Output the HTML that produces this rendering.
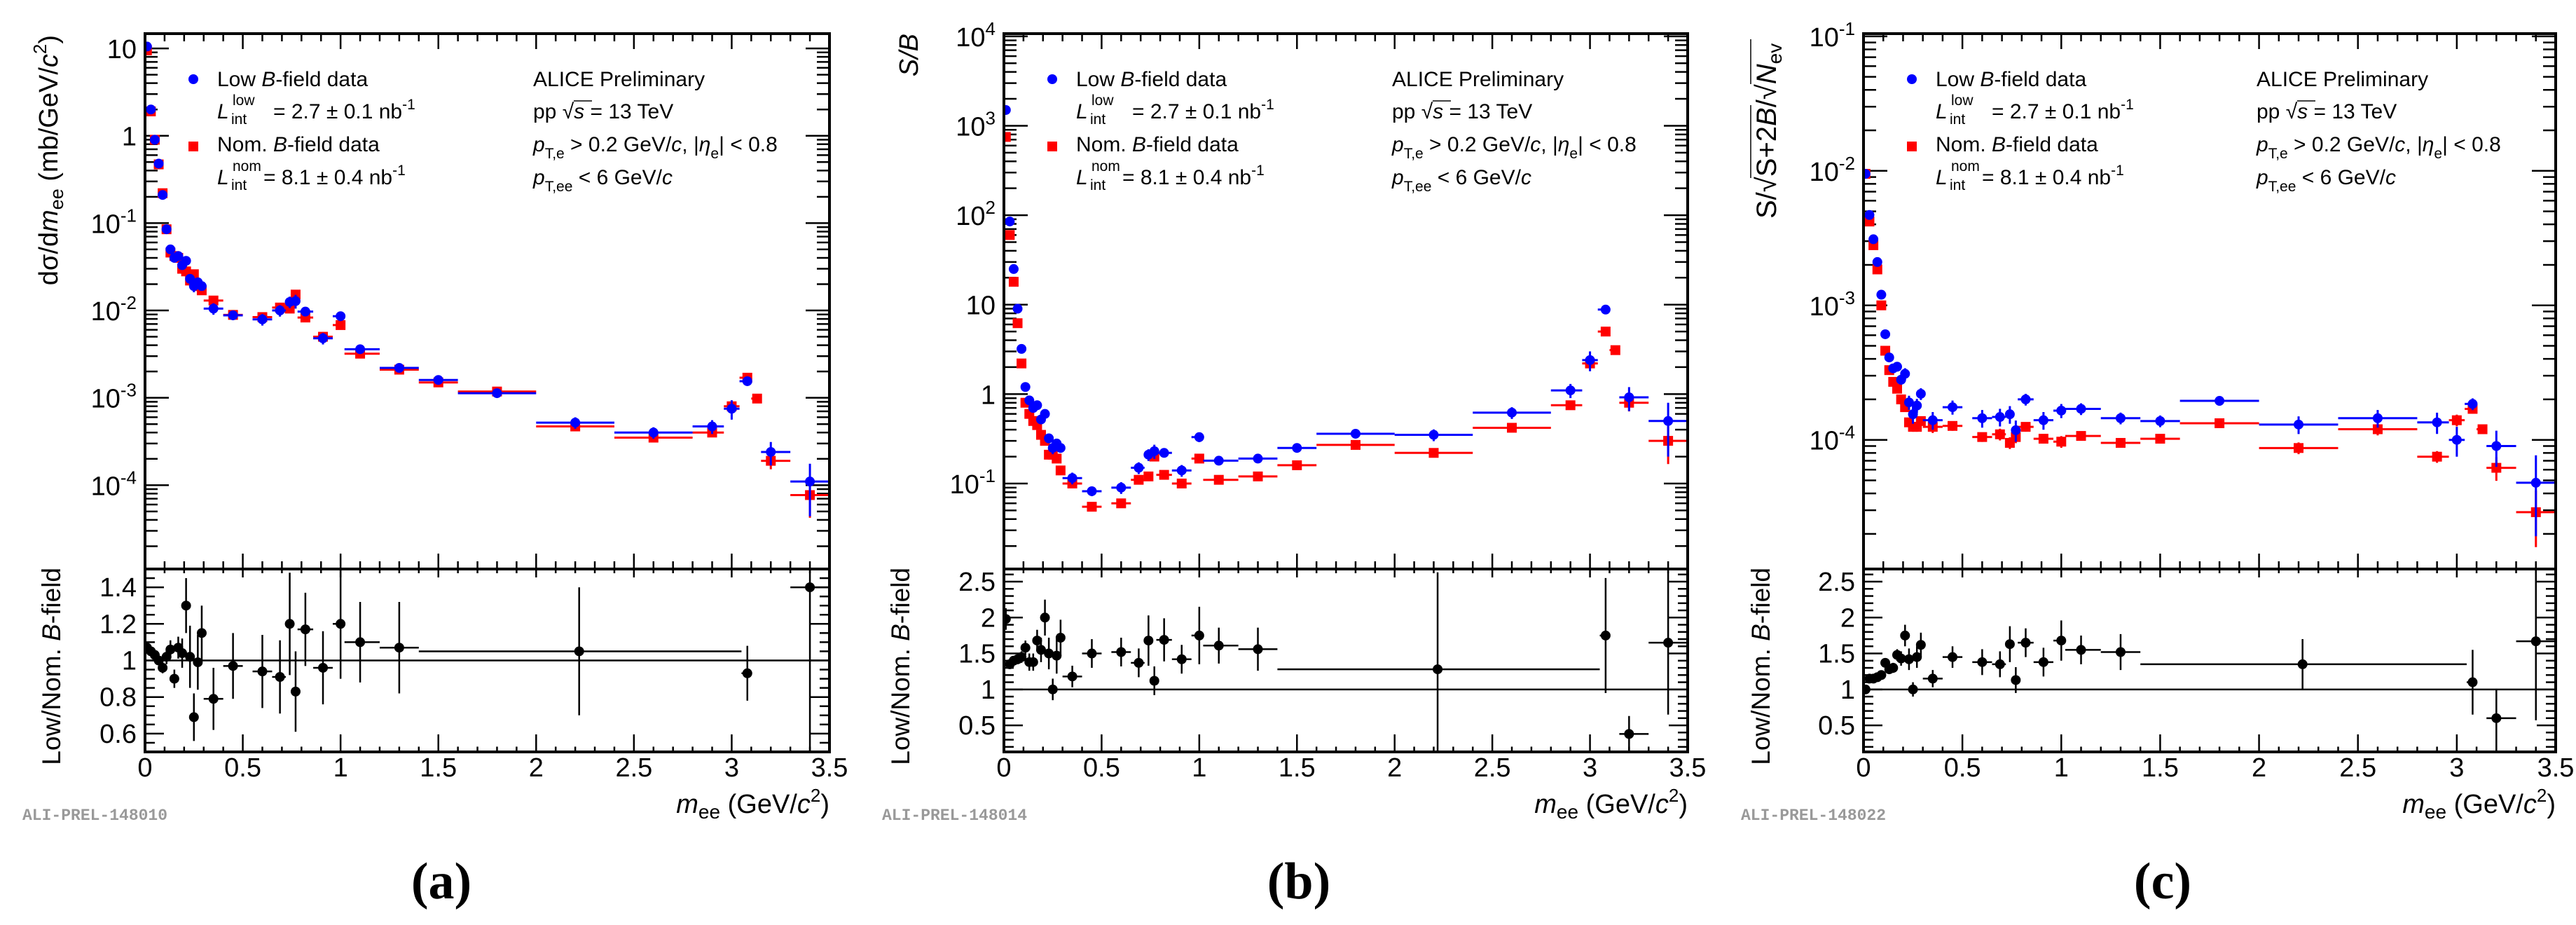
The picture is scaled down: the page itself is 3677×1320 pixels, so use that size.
<!DOCTYPE html>
<html><head><meta charset="utf-8"><style>
html,body{margin:0;padding:0;background:#fff;}
svg{display:block;font-family:"Liberation Sans",sans-serif;}
</style></head><body>
<svg id="fig" width="3677" height="1320" viewBox="0 0 3677 1320" xmlns="http://www.w3.org/2000/svg">
<rect x="0" y="0" width="3677" height="1320" fill="#fff"/>
</svg>
<script>
// ---- shared binning ----
const binLo = [0,0.02,0.04,0.06,0.08,0.10,0.12,0.14,0.16,0.18,0.20,0.22,0.24,0.26,0.28,0.30,0.40,0.55,0.65,0.72,0.76,0.78,0.86,0.96,1.02,1.2,1.4,1.6,2.0,2.4,2.8,2.96,3.04,3.1,3.15,3.3];
const binHi = [0.02,0.04,0.06,0.08,0.10,0.12,0.14,0.16,0.18,0.20,0.22,0.24,0.26,0.28,0.30,0.40,0.50,0.65,0.72,0.76,0.78,0.86,0.96,1.02,1.2,1.4,1.6,2.0,2.4,2.8,2.96,3.04,3.1,3.15,3.3,3.5];
const binX  = [0.01,0.03,0.05,0.07,0.09,0.11,0.13,0.15,0.17,0.19,0.21,0.23,0.25,0.27,0.29,0.35,0.45,0.6,0.69,0.74,0.77,0.82,0.91,1.0,1.1,1.3,1.5,1.8,2.2,2.6,2.9,3.0,3.08,3.13,3.2,3.4];
const errLowRel = [0.02,0.02,0.03,0.03,0.04,0.05,0.06,0.07,0.08,0.08,0.1,0.12,0.15,0.12,0.1,0.15,0.12,0.15,0.15,0.15,0.18,0.1,0.15,0.12,0.1,0.1,0.1,0.08,0.15,0.15,0.18,0.25,0.1,0,0.3,0.6];
const errNomRel = [0.02,0.02,0.02,0.03,0.03,0.04,0.05,0.05,0.06,0.06,0.07,0.08,0.08,0.08,0.08,0.1,0.08,0.08,0.1,0.1,0.1,0.08,0.08,0.1,0.08,0.08,0.08,0.06,0.1,0.1,0.1,0.1,0.08,0.06,0.2,0.45];
// ---- panel a: cross section ----
const lowA = [10.5,2.0,0.9,0.48,0.21,0.085,0.05,0.040,0.042,0.033,0.037,0.023,0.019,0.021,0.019,0.0105,0.0088,0.0079,0.010,0.0125,0.0128,0.0097,0.0048,0.0086,0.0036,0.0022,0.0016,0.00113,0.00052,0.00040,0.00047,0.00075,0.00155,null,0.00024,0.00011];
const nomA = [9.5,1.9,0.9,0.47,0.22,0.085,0.046,0.042,0.040,0.030,0.028,0.022,0.026,0.019,0.017,0.013,0.0089,0.0084,0.0108,0.0105,0.0152,0.0083,0.0050,0.0068,0.0032,0.0021,0.0015,0.00118,0.00047,0.00035,0.00040,0.0008,0.0017,0.00098,0.00019,0.000077];
// ---- panel b: S/B ----
const lowB = [1500,85,25,9,3.2,1.2,0.85,0.7,0.75,0.52,0.6,0.32,0.25,0.28,0.25,0.115,0.082,0.09,0.15,0.21,0.23,0.22,0.14,0.33,0.18,0.19,0.25,0.36,0.35,0.62,1.1,2.4,8.8,null,0.92,0.5];
const nomB = [750,60,18,6.2,2.2,0.8,0.6,0.5,0.45,0.35,0.3,0.21,0.21,0.19,0.14,0.1,0.055,0.06,0.11,0.12,0.2,0.125,0.1,0.19,0.11,0.12,0.16,0.27,0.22,0.42,0.75,2.2,5.0,3.1,0.8,0.3];
// ---- panel c: significance ----
const lowC = [9.5e-3,4.7e-3,3.1e-3,2.1e-3,1.2e-3,6.1e-4,4.1e-4,3.4e-4,3.5e-4,2.8e-4,3.1e-4,1.9e-4,1.55e-4,1.8e-4,2.2e-4,1.4e-4,1.75e-4,1.45e-4,1.48e-4,1.55e-4,1.18e-4,2.0e-4,1.4e-4,1.65e-4,1.7e-4,1.45e-4,1.38e-4,1.95e-4,1.3e-4,1.45e-4,1.35e-4,1.0e-4,1.85e-4,null,0.9e-4,0.48e-4];
const nomC = [9.5e-3,4.2e-3,2.8e-3,1.85e-3,1.0e-3,4.6e-4,3.3e-4,2.7e-4,2.4e-4,2.0e-4,1.75e-4,1.35e-4,1.25e-4,1.25e-4,1.38e-4,1.25e-4,1.27e-4,1.05e-4,1.1e-4,0.95e-4,1.05e-4,1.25e-4,1.02e-4,0.97e-4,1.07e-4,0.95e-4,1.02e-4,1.33e-4,0.87e-4,1.2e-4,0.75e-4,1.4e-4,1.7e-4,1.2e-4,0.62e-4,0.29e-4];
// ---- ratio binning ----
const ratioX  = [0.01,0.03,0.05,0.07,0.09,0.11,0.13,0.15,0.17,0.19,0.21,0.23,0.25,0.27,0.29,0.35,0.45,0.6,0.69,0.74,0.77,0.82,0.91,1.0,1.1,1.3,2.22,3.08,3.2,3.4];
const ratioLo = [0,0.02,0.04,0.06,0.08,0.10,0.12,0.14,0.16,0.18,0.20,0.22,0.24,0.26,0.28,0.30,0.40,0.55,0.65,0.72,0.76,0.78,0.86,0.96,1.02,1.2,1.4,3.05,3.15,3.3];
const ratioHi = [0.02,0.04,0.06,0.08,0.10,0.12,0.14,0.16,0.18,0.20,0.22,0.24,0.26,0.28,0.30,0.40,0.50,0.65,0.72,0.76,0.78,0.86,0.96,1.02,1.2,1.4,3.05,3.1,3.3,3.5];
const ratioA = [1.07,1.05,1.03,1.0,0.96,1.02,1.06,0.9,1.07,1.04,1.3,1.02,0.69,0.99,1.15,0.79,0.97,0.94,0.91,1.2,0.83,1.17,0.96,1.2,1.1,1.07,1.05,0.93,null,1.4];
const ratioErrA = [0.02,0.02,0.02,0.02,0.03,0.04,0.05,0.05,0.06,0.08,0.15,0.17,0.13,0.15,0.15,0.17,0.18,0.2,0.2,0.28,0.22,0.2,0.2,0.3,0.22,0.25,0.35,0.15,null,0.9];
const ratioB = [1.98,1.35,1.4,1.42,1.45,1.58,1.38,1.38,1.68,1.55,2.0,1.5,1.0,1.47,1.72,1.18,1.5,1.52,1.37,1.68,1.12,1.69,1.42,1.75,1.61,1.56,1.28,1.75,0.38,1.65];
const ratioErrB = [0.15,0.05,0.06,0.07,0.08,0.1,0.12,0.12,0.15,0.17,0.25,0.22,0.15,0.25,0.25,0.15,0.2,0.2,0.2,0.35,0.2,0.3,0.2,0.4,0.25,0.3,1.35,0.8,0.25,1.0];
const ratioC = [1.0,1.15,1.15,1.17,1.2,1.37,1.28,1.3,1.48,1.43,1.75,1.42,1.0,1.45,1.62,1.15,1.45,1.38,1.35,1.63,1.13,1.65,1.38,1.68,1.55,1.52,1.35,1.1,0.6,1.67];
const ratioErrC = [0.05,0.03,0.04,0.04,0.05,0.06,0.06,0.07,0.08,0.1,0.15,0.15,0.1,0.15,0.17,0.12,0.15,0.18,0.18,0.25,0.18,0.2,0.2,0.28,0.2,0.25,0.35,0.45,0.4,1.1];
// ---- tick labels ----
const xTickLabels = ["0","0.5","1","1.5","2","2.5","3","3.5"];
const yTicksA = [1,0,-1,-2,-3,-4];
const yTicksB = [4,3,2,1,0,-1];
const yTicksC = [-1,-2,-3,-4];
const rTicksA = [0.6,0.8,1,1.2,1.4];
const rTicksBC = [0.5,1,1.5,2,2.5];

const NS = "http://www.w3.org/2000/svg";
const svg = document.getElementById('fig');
function el(tag, attrs, parent){
  const e = document.createElementNS(NS, tag);
  for (const k in attrs) e.setAttribute(k, attrs[k]);
  (parent||svg).appendChild(e);
  return e;
}
function txt(parent, x, y, str, size, anchor, extra){
  const t = el('text', Object.assign({x:x, y:y, 'font-size':size, 'text-anchor':anchor||'start', fill:'#000'}, extra||{}), parent);
  t.textContent = str;
  return t;
}
function sup(t, str, dy, size){
  const s = document.createElementNS(NS,'tspan');
  s.setAttribute('dy', dy); s.setAttribute('font-size', size); s.textContent = str; t.appendChild(s); return s;
}

function drawPanel(id, P){
  const g = el('g', {});
  
  
  const L=P.L, R=P.R, T=48, D=812, B=1073;
  const xs = v => L + (v/3.5)*(R-L);
  const ys = v => T + (P.yMax - Math.log10(v))/(P.yMax-P.yMin)*(D-T);
  const rs = v => D + (P.rMax - v)/(P.rMax-P.rMin)*(B-D);
  const defs = el('defs', {}, g);
  const cu = el('clipPath', {id:'cu'+id}, defs); el('rect',{x:L,y:T,width:R-L,height:D-T},cu);
  const cr = el('clipPath', {id:'cr'+id}, defs); el('rect',{x:L,y:D,width:R-L,height:B-D},cr);

  const ticks = el('g', {stroke:'#000','stroke-width':2.5}, g);
  
  
  for (let i=0;i<=35;i++){
    const v=i/10, x=xs(v), maj=(i%5===0);
    const lu = maj?22:11, lr = maj?30:15;
    el('line',{x1:x,y1:T,x2:x,y2:T+lu},ticks);
    el('line',{x1:x,y1:D,x2:x,y2:D-lu},ticks);
    el('line',{x1:x,y1:D,x2:x,y2:D+(maj?12:6)},ticks);
    el('line',{x1:x,y1:B,x2:x,y2:B-lr*0.5-(maj?10:0)},ticks);
  }
  for (let d=Math.floor(P.yMin); d<=Math.ceil(P.yMax); d++){
    for (let m=1;m<=9;m++){
      const lv = d+Math.log10(m);
      if (lv<P.yMin||lv>P.yMax) continue;
      const y = T + (P.yMax-lv)/(P.yMax-P.yMin)*(D-T);
      const len = m===1?34:18;
      el('line',{x1:L,y1:y,x2:L+len,y2:y},ticks);
      el('line',{x1:R,y1:y,x2:R-len,y2:y},ticks);
    }
  }
  for (let v=Math.ceil(P.rMin/P.rMinor)*P.rMinor; v<=P.rMax+1e-9; v+=P.rMinor){
    const y=rs(v);
    const maj = Math.abs(v/P.rMajor - Math.round(v/P.rMajor))<1e-6;
    const len = maj?27:14;
    el('line',{x1:L,y1:y,x2:L+len,y2:y},ticks);
    el('line',{x1:R,y1:y,x2:R-len,y2:y},ticks);
  }
  const one = el('line',{x1:L,y1:rs(1),x2:R,y2:rs(1),stroke:'#000','stroke-width':2.5},g);
  
  

  const ug = el('g', {'clip-path':'url(#cu'+id+')'}, g);
  function series(vals, rel, color, shape, nm){
    const sg = el('g', {}, ug);
    
    
    for (let i=0;i<vals.length;i++){
      const v = vals[i]; if (v==null) continue;
      const x = xs(binX[i]), y = ys(v);
      el('line',{x1:xs(binLo[i]),y1:y,x2:xs(binHi[i]),y2:y,stroke:color,'stroke-width':3},sg);
      const e = rel[i]*v;
      if (e>0) el('line',{x1:x,y1:ys(v+e),x2:x,y2:ys(Math.max(v-e,v*0.05)),stroke:color,'stroke-width':3},sg);
      if (shape==='c') el('circle',{cx:x,cy:y,r:7,fill:color},sg);
      else el('rect',{x:x-7,y:y-7,width:14,height:14,fill:color},sg);
    }
  }
  series(P.nom, errNomRel, '#ff0000', 's', 'nom-field-series-' + id);
  series(P.low, errLowRel, '#0000ff', 'c', 'low-field-series-' + id);

  const rg = el('g', {'clip-path':'url(#cr'+id+')'}, g);
  
  
  for (let i=0;i<ratioX.length;i++){
    const v=P.ratio[i]; if (v==null) continue;
    const x=xs(ratioX[i]), y=rs(v), e=P.rerr[i];
    el('line',{x1:xs(ratioLo[i]),y1:y,x2:xs(ratioHi[i]),y2:y,stroke:'#000','stroke-width':2.5},rg);
    el('line',{x1:x,y1:rs(v+e),x2:x,y2:rs(v-e),stroke:'#000','stroke-width':2.5},rg);
    el('circle',{cx:x,cy:y,r:7,fill:'#000'},rg);
  }

  const fr = el('g',{fill:'none',stroke:'#000','stroke-width':4},g);
  
  
  el('rect',{x:L,y:T,width:R-L,height:D-T},fr);
  el('rect',{x:L,y:D,width:R-L,height:B-D},fr);

  for (let i=0;i<xTickLabels.length;i++){
    const t = txt(g, xs(i*0.5), 1108, xTickLabels[i], 38, 'middle');
    
    
  }
  for (const d of P.yTicks){
    const y = ys(Math.pow(10,d)) + 14;
    let t;
    if (d===0) t = txt(g, L-12, y, '1', 38, 'end');
    else if (d===1) t = txt(g, L-12, y, '10', 38, 'end');
    else { t = txt(g, L-12, y, '10', 38, 'end'); sup(t, String(d), -16, 26); }
    
    
  }
  for (const v of P.rTicks){
    const t = txt(g, L-12, rs(v)+13, String(v), 38, 'end');
    
    
  }
  const xt = txt(g, R, 1160, '', 38, 'end');
  
  
  xt.innerHTML = '<tspan font-style="italic">m</tspan><tspan font-size="28" dy="8">ee</tspan><tspan dy="-8"> (GeV/</tspan><tspan font-style="italic">c</tspan><tspan font-size="26" dy="-16">2</tspan><tspan dy="16">)</tspan>';
  const ryt = txt(g, 0, 0, '', 37, 'end', {transform:'translate('+(P.rTitleX)+',810) rotate(-90)'});
  
  
  ryt.innerHTML = 'Low/Nom.  <tspan font-style="italic">B</tspan>-field';

  const lg = el('g',{},g);
  
  
  const lx = L+103, mx = L+69;
  el('circle',{cx:mx,cy:113,r:7,fill:'#0000ff'},lg);
  el('rect',{x:mx-7,y:202,width:14,height:14,fill:'#ff0000'},lg);
  let t = txt(lg, lx, 123, '', 30); t.innerHTML = 'Low <tspan font-style="italic">B</tspan>-field data';
  t = txt(lg, lx, 216, '', 30); t.innerHTML = 'Nom. <tspan font-style="italic">B</tspan>-field data';
  txt(lg, lx, 169, 'L', 30, 'start', {'font-style':'italic'});
  txt(lg, lx+22, 150, 'low', 21);
  txt(lg, lx+20, 177, 'int', 21);
  t = txt(lg, lx+80, 169, '= 2.7 ± 0.1 nb', 30); sup(t,'-1',-13,21);
  txt(lg, lx, 263, 'L', 30, 'start', {'font-style':'italic'});
  txt(lg, lx+22, 244, 'nom', 21);
  txt(lg, lx+20, 271, 'int', 21);
  t = txt(lg, lx+66, 263, '= 8.1 ± 0.4 nb', 30); sup(t,'-1',-13,21);
  const ig = el('g',{},g);
  
  
  const rx = L+P.info;
  txt(ig, rx, 123, 'ALICE Preliminary', 30);
  t = txt(ig, rx, 169, '', 30); t.innerHTML = 'pp  √<tspan font-style="italic">s</tspan> = 13 TeV';
  el('line',{x1:rx+58,y1:144,x2:rx+84,y2:144,stroke:'#000','stroke-width':1.5},ig);
  t = txt(ig, rx, 216, '', 30);
  t.innerHTML = '<tspan font-style="italic">p</tspan><tspan font-size="21" dy="10">T,e</tspan><tspan dy="-10"> &gt; 0.2 GeV/</tspan><tspan font-style="italic">c</tspan>, |<tspan font-style="italic">η</tspan><tspan font-size="21" dy="10">e</tspan><tspan dy="-10">| &lt; 0.8</tspan>';
  t = txt(ig, rx, 263, '', 30);
  t.innerHTML = '<tspan font-style="italic">p</tspan><tspan font-size="21" dy="10">T,ee</tspan><tspan dy="-10"> &lt; 6 GeV/</tspan><tspan font-style="italic">c</tspan>';
  const pid = txt(g, P.pidX, 1170, P.pid, 23, 'start', {'font-family':'"Liberation Mono",monospace','font-weight':'bold',fill:'#999'});
  
  
  const sl = txt(g, P.labX, 1282, P.lab, 74, 'middle', {'font-family':'"Liberation Serif",serif','font-weight':'bold'});
  
  
  return g;
}

const gA = drawPanel('a', {L:207,R:1184,yMin:-4.96,yMax:1.169,rMin:0.5,rMax:1.5,rMajor:0.2,rMinor:0.05,
  low:lowA,nom:nomA,ratio:ratioA,rerr:ratioErrA,yTicks:yTicksA,rTicks:rTicksA,rTitleX:86,info:554,
  pid:'ALI-PREL-148010',pidX:32,lab:'(a)',labX:630});
const gB = drawPanel('b', {L:1433,R:2409,yMin:-1.956,yMax:4.03,rMin:0.13,rMax:2.676,rMajor:0.5,rMinor:0.1,
  low:lowB,nom:nomB,ratio:ratioB,rerr:ratioErrB,yTicks:yTicksB,rTicks:rTicksBC,rTitleX:1298,info:554,
  pid:'ALI-PREL-148014',pidX:1259,lab:'(b)',labX:1854});
const gC = drawPanel('c', {L:2660,R:3648,yMin:-4.96,yMax:-0.98,rMin:0.13,rMax:2.676,rMajor:0.5,rMinor:0.1,
  low:lowC,nom:nomC,ratio:ratioC,rerr:ratioErrC,yTicks:yTicksC,rTicks:rTicksBC,rTitleX:2526,info:561,
  pid:'ALI-PREL-148022',pidX:2485,lab:'(c)',labX:3087});

let yt = txt(svg, 0, 0, '', 38, 'end', {transform:'translate(82,50) rotate(-90)'});


yt.innerHTML = 'dσ/d<tspan font-style="italic">m</tspan><tspan font-size="27" dy="8">ee</tspan><tspan dy="-8"> (mb/GeV/</tspan><tspan font-style="italic">c</tspan><tspan font-size="26" dy="-16">2</tspan><tspan dy="16">)</tspan>';
yt = txt(svg, 0, 0, '', 38, 'end', {transform:'translate(1310,48) rotate(-90)','font-style':'italic'});


yt.textContent = 'S/B';
const gt = el('g',{transform:'translate(2535,312) rotate(-90)'});


yt = txt(gt, 0, 0, '', 40, 'start');
yt.innerHTML = 'S/√S+2<tspan font-style="italic">B</tspan>/√<tspan font-style="italic">N</tspan><tspan font-size="28" dy="8">ev</tspan>';
el('line',{x1:58,y1:-36,x2:162,y2:-36,stroke:'#000','stroke-width':1.5},gt);
el('line',{x1:192,y1:-36,x2:256,y2:-36,stroke:'#000','stroke-width':1.5},gt);
</script>
</body></html>
